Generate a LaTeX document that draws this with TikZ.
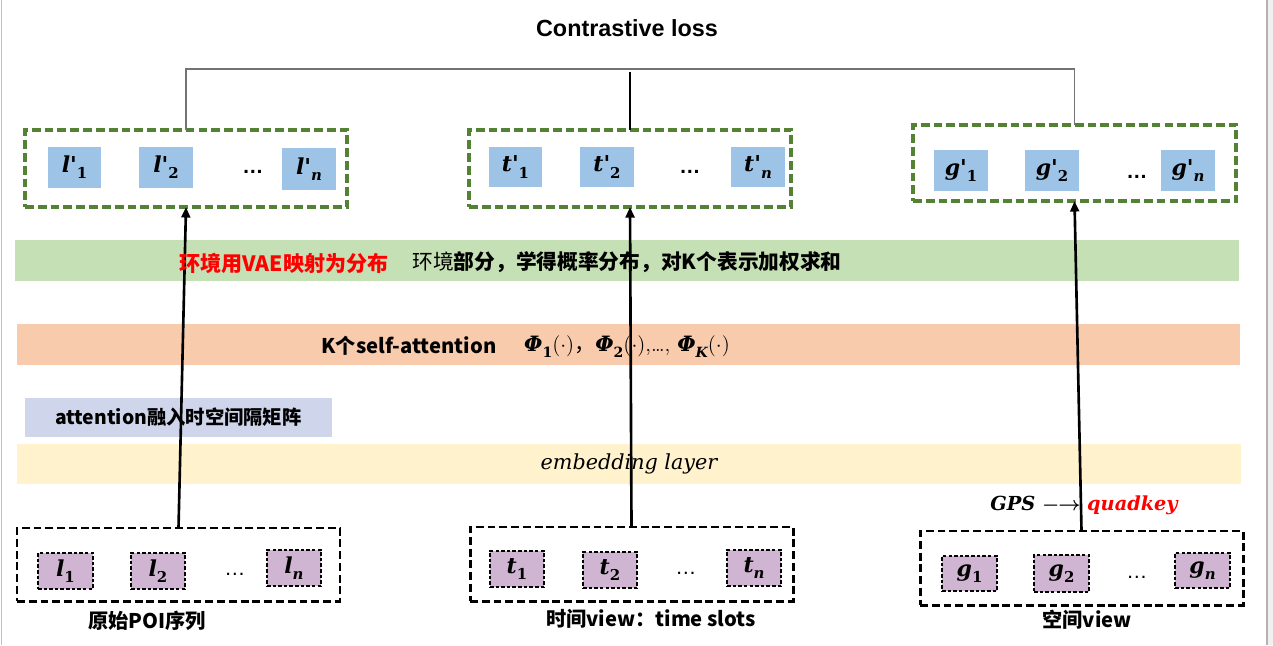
\RequirePackage{fix-cm}
\documentclass[tikz,border=0pt]{standalone}
\usepackage{amsmath}
\usepackage[no-math]{fontspec}
\newfontfamily\cjk{Noto Sans CJK SC}
\newfontfamily\arial{Liberation Sans}
\newfontfamily\dvs{DejaVu Serif}
\usetikzlibrary{arrows.meta}
\definecolor{grn}{HTML}{548235}
\definecolor{blu}{HTML}{9DC3E6}
\definecolor{bandg}{HTML}{C5E0B4}
\definecolor{bando}{HTML}{F8CBAD}
\definecolor{bandl}{HTML}{CFD5EA}
\definecolor{bandy}{HTML}{FFF2CC}
\definecolor{pnk}{HTML}{CFB5D2}
\newcommand{\rbox}[7]{\node[#6, minimum width={(#4-#2)*0.02cm}, minimum height={(#5-#3)*0.02cm}, inner sep=0pt, outer sep=0pt] (#1) at ({(#2+#4)/2},{(#3+#5)/2}) {#7};}
% bold italic variable with upright (digit) or italic subscript
\newcommand{\sv}[2]{{\dvs\bfseries\itshape #1}\raisebox{-0.28em}{\dvs\bfseries\fontsize{8.5}{10}\selectfont #2}}
\newcommand{\svi}[2]{{\dvs\bfseries\itshape #1}\raisebox{-0.28em}{\dvs\bfseries\itshape\fontsize{8.5}{10}\selectfont #2}}
\newcommand{\pv}[2]{{\dvs\bfseries\itshape Φ}\raisebox{-0.28em}{\dvs\bfseries#1\fontsize{8}{10}\selectfont #2}$(\cdot)$}
\begin{document}
\begin{tikzpicture}[x=0.02cm,y=-0.02cm,
  dgreen/.style={draw=grn, line width=1.8pt, dash pattern=on 5pt off 2.3pt},
  dblack/.style={draw=black, line width=1.7pt, dash pattern=on 4.5pt off 2.2pt},
  bluebox/.style={fill=blu},
  pinkbox/.style={fill=pnk, draw=black, line width=0.8pt, dash pattern=on 2pt off 1.2pt},
  arr/.style={line width=1.5pt, -{Triangle[length=6pt,width=5pt]}},
  lab/.style={font=\cjk\bfseries\fontsize{11.5}{13}\selectfont, inner sep=0pt},
  mth/.style={font=\fontsize{12.5}{14}\selectfont, inner sep=0pt},
  dts/.style={font=\arial\bfseries\fontsize{12}{14}\selectfont, inner sep=0pt},
  band/.style={draw=none}
]
\useasboundingbox (0,0) rectangle (1273,645);
% page frame
\fill[black!6] (1268,0) rectangle (1273,645);
\draw[black!25, line width=0.8pt] (1.5,0) -- (1.5,645);
\draw[black!30, line width=1.2pt] (1267,0) -- (1267,645);

% title
\node[font=\arial\bfseries\fontsize{13.3}{16}\selectfont, inner sep=0pt] (title) at (627,28) {Contrastive loss};

% bands
\rbox{bg}{15}{240}{1239}{281}{band, fill=bandg}{}
\rbox{bo}{17}{324}{1240}{365}{band, fill=bando}{}
\rbox{bl}{25}{398}{332}{437}{band, fill=bandl}{}
\rbox{by}{17}{444}{1241}{484}{band, fill=bandy}{}

% top output boxes
\rbox{Lp}{25}{130}{347}{207}{dgreen}{}
\rbox{Tp}{469}{130}{791}{207}{dgreen}{}
\rbox{Gp}{913}{125}{1236}{201}{dgreen}{}

\rbox{lp1}{48}{147}{101}{188}{bluebox, mth}{\sv{l'}{1}}
\rbox{lp2}{139}{147}{193}{188}{bluebox, mth}{\sv{l'}{2}}
\rbox{lpn}{282}{148}{336}{190}{bluebox, mth}{\svi{l'}{n}}
\rbox{tp1}{489}{147}{542}{187}{bluebox, mth}{\sv{t'}{1}}
\rbox{tp2}{580}{147}{634}{187}{bluebox, mth}{\sv{t'}{2}}
\rbox{tpn}{731}{147}{785}{187}{bluebox, mth}{\svi{t'}{n}}
\rbox{gp1}{934}{150}{988}{191}{bluebox, mth}{\sv{g'}{1}}
\rbox{gp2}{1025}{150}{1079}{191}{bluebox, mth}{\sv{g'}{2}}
\rbox{gpn}{1161}{150}{1215}{191}{bluebox, mth}{\svi{g'}{n}}
\node[dts] (dl) at (253,172) {…};
\node[dts] (dt) at (690,172) {…};
\node[dts] (dg) at (1137,177) {…};

% bottom input boxes
\rbox{Lb}{17}{528}{340}{601}{dblack}{}
\rbox{Tb}{470}{527}{793}{601}{dblack}{}
\rbox{Gb}{920}{531}{1243}{605}{dblack}{}

\rbox{l1}{38}{553}{93}{589}{pinkbox, mth}{\sv{l}{1}}
\rbox{l2}{131}{553}{185}{589}{pinkbox, mth}{\sv{l}{2}}
\rbox{ln}{267}{550}{321}{586}{pinkbox, mth}{\svi{l}{n}}
\rbox{t1}{490}{551}{544}{587}{pinkbox, mth}{\sv{t}{1}}
\rbox{t2}{583}{552}{637}{588}{pinkbox, mth}{\sv{t}{2}}
\rbox{tn}{727}{550}{781}{586}{pinkbox, mth}{\svi{t}{n}}
\rbox{g1}{942}{556}{997}{591}{pinkbox, mth}{\sv{g}{1}}
\rbox{g2}{1034}{555}{1089}{592}{pinkbox, mth}{\sv{g}{2}}
\rbox{gn}{1175}{553}{1230}{588}{pinkbox, mth}{\svi{g}{n}}
\node[dts, font=\arial\fontsize{12}{14}\selectfont] (bdl) at (235,574) {…};
\node[dts, font=\arial\fontsize{12}{14}\selectfont] (bdt) at (686,573) {…};
\node[dts, font=\arial\fontsize{12}{14}\selectfont] (bdg) at (1137,577) {…};

% labels
\node[lab] (labL) at (147,621) {原始POI序列};
\node[lab] (labT) at (651,619) {时间view：time slots};
\node[lab] (labG) at (1087,620) {空间view};

% bracket to loss
\coordinate (bar) at (630,69);
\draw[black!55, line width=0.8pt] (Lp.north) |- (bar) -| (Gp.north);
\draw[black, line width=1.2pt] ([yshift=-1.5pt]bar) -- (Tp.north);

% arrows
\draw[arr] (Lb.north) -- (Lp.south);
\draw[arr] (Tb.north) -- (Tp.south);
\draw[arr] (Gb.north) -- (Gp.south);

% band texts
\node[lab, text=red, font=\cjk\bfseries\fontsize{12}{14}\selectfont] (vae) at (284,263) {环境用VAE映射为分布};
\node[lab, font=\cjk\fontsize{11.8}{13}\selectfont] (env) at (627,262) {环境{\bfseries 部分，学得概率分布，对K个表示加权求和}};
\node[lab] (katt) at (409,346) {K个self-attention};
\node[mth, font=\fontsize{12}{15}\selectfont] (phi) at (627,347) {\pv{}{1}{\cjk，}\pv{}{2},\ldots, \pv{\itshape}{K}};
\node[lab, font=\cjk\bfseries\fontsize{11}{13}\selectfont] (attn) at (bl) {attention融入时空间隔矩阵};
\node[mth, font=\dvs\itshape\fontsize{11.8}{15}\selectfont] (emb) at (by) {embedding layer};
\node[mth, font=\dvs\bfseries\itshape\fontsize{11}{14}\selectfont] (gps) at (1084,505) {GPS $\boldsymbol{-}\!\!\boldsymbol{\rightarrow}$ \textcolor{red}{quadkey}};
\end{tikzpicture}
\end{document}
